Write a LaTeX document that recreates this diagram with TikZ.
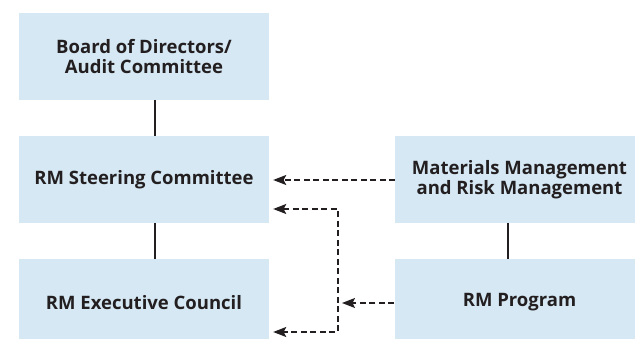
\documentclass[tikz,border=0pt]{standalone}
\usepackage{fontspec}
\setmainfont{Open Sans}
\usetikzlibrary{arrows.meta}
\definecolor{boxfill}{HTML}{D5E8F3}
\definecolor{ink}{HTML}{231F20}
\begin{document}
\begin{tikzpicture}[x=1pt,y=-1pt,
  box/.style={fill=boxfill, draw=none, minimum width=250pt, minimum height=87pt,
    inner sep=0pt, align=center, text=ink,
    font=\fontsize{18.5}{20}\selectfont\bfseries},
  solidline/.style={draw=ink, line width=1.2pt},
  tip/.style={arrows={-Stealth[length=13pt,width=10pt,inset=2.5pt]}},
  dashline/.style={draw=ink, line width=1.3pt, dash pattern=on 6pt off 3.5pt}]
\useasboundingbox (0,0) rectangle (635,339);
\clip (0,0) rectangle (635,339);
\node[box] (board) at (144,56.5) {Board of Directors/\\Audit Committee};
\node[box] (steer) at (144,179.5) {RM Steering Committee};
\node[box] (exec) at (144,302.5) {RM Executive Council};
\node[box] (mat) at (519.5,179.5) {Materials Management\\and Risk Management};
\node[box] (prog) at (519.5,302.5) {RM Program};
\draw[solidline] ([xshift=11pt]board.south) -- ([xshift=11pt]steer.north);
\draw[solidline] ([xshift=11pt]steer.south) -- ([xshift=11pt]exec.north);
\draw[solidline] ([xshift=-11.5pt]mat.south) -- ([xshift=-11.5pt]prog.north);
\coordinate (j1) at (338,209);
\coordinate (j2) at (338,332);
\coordinate (j3) at (338,303);
\coordinate (a1) at (395,180);
\draw[dashline, tip] (a1) -- ([xshift=4pt]steer.east |- a1);
\draw[dashline, tip] (prog.west |- j3) -- ([xshift=4pt]j3);
\draw[dashline, arrows={Stealth[length=13pt,width=10pt,inset=2.5pt]-Stealth[length=13pt,width=10pt,inset=2.5pt]}]
  ([xshift=4pt]steer.east |- j1) -- (j1) -- (j2) -- ([xshift=4pt]exec.east |- j2);
\end{tikzpicture}
\end{document}
